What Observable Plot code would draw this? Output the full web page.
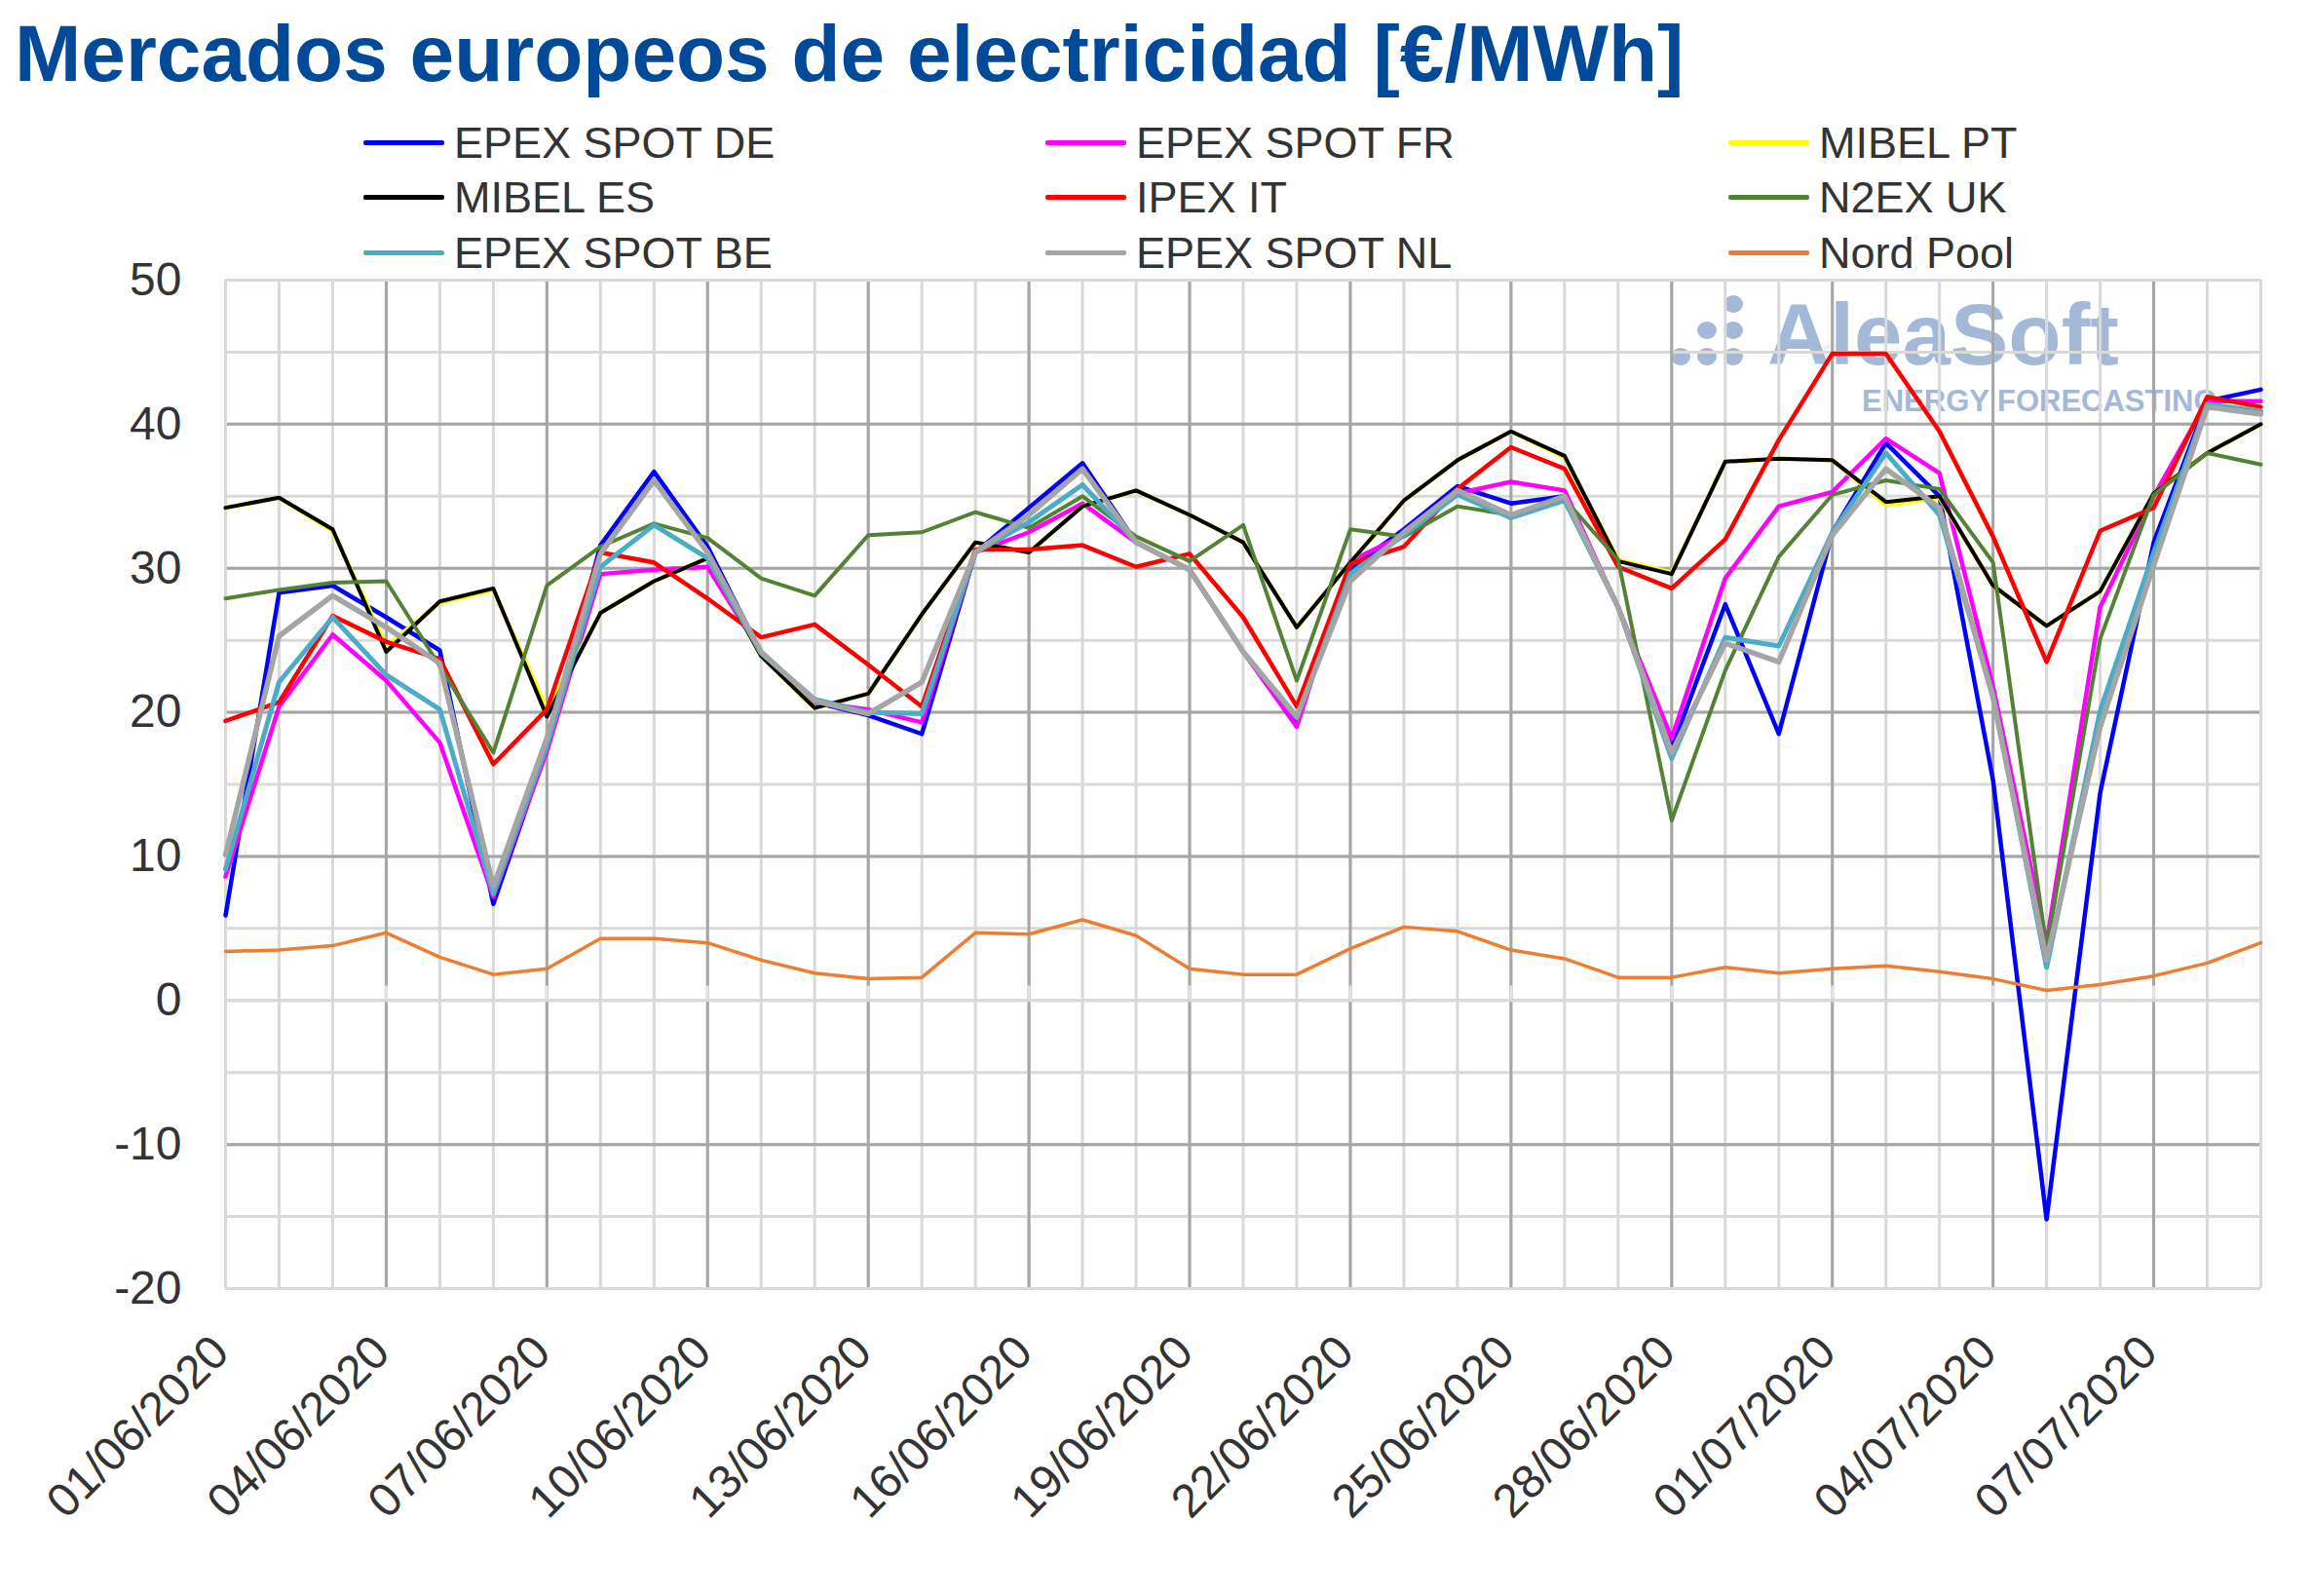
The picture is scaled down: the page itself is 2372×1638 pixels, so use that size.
<!DOCTYPE html>
<html>
<head>
<meta charset="utf-8">
<script src="https://cdn.jsdelivr.net/npm/d3@7"></script>
<script src="https://cdn.jsdelivr.net/npm/@observablehq/plot@0.6"></script>
<style>
  html, body { margin: 0; padding: 0; background: #fff; }
  body { width: 2372px; height: 1638px; overflow: hidden; position: relative;
         font-family: Arial, "Liberation Sans", sans-serif; }
  #header { position: relative; height: 270px; }
  #title { position: absolute; left: 15px; top: 14px; font-size: 82px; font-weight: bold;
           color: #004a99; line-height: 1; white-space: nowrap; }
  .leg { position: absolute; height: 45px; font-size: 45px; line-height: 1; color: #333; white-space: nowrap; }
  .leg .sw { position: absolute; left: 0; width: 83px; height: 5px; border-radius: 2px; }
  .leg .tx { position: absolute; left: 93px; top: 0; }
  #wm { position: absolute; left: 0; top: 0; z-index: 0; color: #a4b9d8; font-weight: bold; }
  #wm .dot { position: absolute; width: 20px; height: 18px; border-radius: 50%; background: #a4b9d8; }
  #wm .t1 { position: absolute; left: 1814px; top: 312px; font-size: 89px; line-height: 0.7; white-space: nowrap; }
  #wm .t2 { position: absolute; left: 1911px; top: 400px; font-size: 31px; line-height: 0.75; white-space: nowrap; }
  #chart { position: relative; z-index: 1; }
</style>
</head>
<body>
<div id="wm"></div>
<div id="header">
  <div id="title">Mercados europeos de electricidad [€/MWh]</div>
  <div id="legend"></div>
</div>
<div id="chart"></div>
<script>
// ---- data ----
const startDay = "2020-06-01";
const nDays = 39;
const tickLabels = ["01/06/2020","04/06/2020","07/06/2020","10/06/2020","13/06/2020","16/06/2020",
  "19/06/2020","22/06/2020","25/06/2020","28/06/2020","01/07/2020","04/07/2020","07/07/2020"];
const yTicks = [-20,-10,0,10,20,30,40,50];

const seriesNames = ["EPEX SPOT DE","EPEX SPOT FR","MIBEL PT","MIBEL ES","IPEX IT","N2EX UK","EPEX SPOT BE","EPEX SPOT NL","Nord Pool"];
const seriesColors = ["#0000ff","#ff00ff","#ffff00","#000000","#ff0000","#548235","#4bacc6","#a5a5a5","#ed7d31"];
const seriesWidths = [4.5,4.5,4.5,4,4.5,4,5,5.5,3.5];

const epexDE = [5.9,28.3,28.8,26.6,24.3,6.7,17.5,31.6,36.7,31.5,24.1,20.7,19.8,18.5,31.1,34.2,37.3,31.8,29.9,24.2,19.4,30.0,32.7,35.7,34.5,35.0,27.3,17.5,27.5,18.5,32.5,38.7,35.0,15.3,-15.2,14.4,31.8,41.6,42.4];
const epexFR = [8.6,20.4,25.4,22.2,17.9,7.2,17.3,29.6,29.9,30.1,24.1,20.7,20.2,19.3,31.1,32.5,34.5,31.8,29.9,24.2,19.0,30.5,32.3,35.2,36.0,35.4,27.3,18.2,29.3,34.3,35.3,39.0,36.6,21.8,4.0,27.3,35.0,41.6,41.6];
const mibelPT = [34.2,34.9,32.6,24.6,27.6,28.5,20.2,26.9,29.1,30.7,23.9,20.3,21.3,26.8,31.8,31.1,34.3,35.4,33.7,31.8,25.9,30.4,34.7,37.5,39.5,37.7,30.6,29.7,37.4,37.6,37.5,34.4,34.9,28.8,26.0,28.4,35.2,38.0,40.0];
const mibelES = [34.2,34.9,32.7,24.2,27.7,28.6,19.7,26.9,29.1,30.7,23.9,20.3,21.3,26.8,31.8,31.1,34.3,35.4,33.7,31.8,25.9,30.4,34.7,37.5,39.5,37.8,30.5,29.6,37.4,37.6,37.5,34.6,35.0,28.8,26.0,28.4,35.2,38.0,40.0];
const ipexIT = [19.4,20.7,26.7,24.9,23.7,16.4,20.2,31.1,30.4,27.9,25.2,26.1,23.3,20.4,31.3,31.3,31.6,30.1,31.0,26.6,20.4,30.3,31.5,35.5,38.4,36.9,30.1,28.6,32.0,38.9,44.9,44.9,39.5,32.2,23.5,32.6,34.2,41.9,41.2];
const n2exUK = [27.9,28.5,29.0,29.1,23.2,17.2,28.8,31.5,33.1,32.1,29.3,28.1,32.3,32.5,33.9,32.8,35.0,32.2,30.5,33.0,22.2,32.7,32.2,34.3,33.7,34.8,30.6,12.5,22.9,30.8,35.1,36.1,35.5,30.4,3.6,25.1,35.1,38.0,37.2];
const epexBE = [9.1,22.1,26.6,22.6,20.2,7.4,17.7,30.1,33.0,30.7,24.1,20.9,20.0,19.9,31.1,33.2,35.8,31.8,29.9,24.2,19.6,29.6,32.3,35.1,33.5,34.7,27.3,16.8,25.2,24.6,32.5,38.0,33.7,21.2,2.3,20.1,31.1,41.4,40.9];
const epexNL = [10.1,25.3,28.1,25.9,23.4,7.9,18.2,31.0,36.1,31.1,24.2,20.8,19.9,22.1,31.1,33.7,36.9,31.8,29.9,24.2,19.7,29.1,32.5,35.4,33.7,35.0,27.3,17.2,24.8,23.5,32.3,36.9,34.2,21.0,2.8,19.0,30.2,41.2,40.7];
const nordPool = [3.4,3.5,3.8,4.7,3.0,1.8,2.2,4.3,4.3,4.0,2.8,1.9,1.5,1.6,4.7,4.6,5.6,4.5,2.2,1.8,1.8,3.6,5.1,4.8,3.5,2.9,1.6,1.6,2.3,1.9,2.2,2.4,2.0,1.5,0.7,1.1,1.7,2.6,4.0];

const seriesValues = [epexDE, epexFR, mibelPT, mibelES, ipexIT, n2exUK, epexBE, epexNL, nordPool];

// ---- derived tables ----
const parseDMY = d3.utcParse("%d/%m/%Y");
const t0 = d3.utcParse("%Y-%m-%d")(startDay);
const dates = d3.utcDay.range(t0, d3.utcDay.offset(t0, nDays));
const tickDates = tickLabels.map(parseDMY);
const fmt = d3.utcFormat("%d/%m/%Y");

const majorDates = dates.filter((d, i) => i % 3 === 0 && i > 0 && i < dates.length - 1);
const minorY = d3.range(-20, 51, 5);
const majorY = yTicks.filter(v => v !== 0 && v !== 50 && v !== -20);

// ---- legend ----
const legend = document.getElementById("legend");
const colX = [373, 1073, 1774];
const rowTop = [124, 180, 237];
seriesNames.forEach((name, i) => {
  const el = document.createElement("div");
  el.className = "leg";
  el.style.left = colX[i % 3] + "px";
  el.style.top = rowTop[Math.floor(i / 3)] + "px";
  el.innerHTML = `<span class="sw" style="background:${seriesColors[i]};top:20px"></span><span class="tx">${name}</span>`;
  legend.appendChild(el);
});

// ---- watermark ----
const wm = document.getElementById("wm");
[[1725,366],[1752,366],[1752,339],[1779,366],[1779,339],[1779,312]].forEach(([cx, cy]) => {
  const d = document.createElement("div");
  d.className = "dot";
  d.style.left = (cx - 10) + "px";
  d.style.top = (cy - 9) + "px";
  wm.appendChild(d);
});
wm.insertAdjacentHTML("beforeend", `<div class="t1">AleaSoft</div><div class="t2">ENERGY FORECASTING</div>`);

// ---- chart ----
const lineMarks = seriesNames.map((name, i) =>
  Plot.line(seriesValues[i].map((v, j) => ({date: dates[j], value: v})), {
    x: "date", y: "value", stroke: seriesColors[i], strokeWidth: seriesWidths[i],
    strokeLinejoin: "round", strokeLinecap: "round"
  })
);

const chart = Plot.plot({
  width: 2372,
  height: 1368,
  marginLeft: 231,
  marginRight: 52,
  marginTop: 17,
  marginBottom: 316,
  style: {background: "transparent", fontFamily: "Arial, 'Liberation Sans', sans-serif", color: "#333", overflow: "visible"},
  x: {type: "utc", domain: [dates[0], dates[dates.length - 1]], axis: null},
  y: {domain: [-20, 50], label: null},
  marks: [
    Plot.ruleX(dates, {x: d => d, stroke: "#d9d9d9", strokeWidth: 3}),
    Plot.ruleY(minorY, {y: d => d, stroke: "#d9d9d9", strokeWidth: 3}),
    Plot.ruleX(majorDates, {x: d => d, stroke: "#a6a6a6", strokeWidth: 3}),
    Plot.ruleY(majorY, {y: d => d, stroke: "#a6a6a6", strokeWidth: 3}),
    Plot.ruleX(majorDates, {x: d => d, y1: 0, y2: 1, stroke: "#e3e3e3", strokeWidth: 3}),
    Plot.ruleY([0, -20, 50], {y: d => d, stroke: "#d9d9d9", strokeWidth: 3}),
    Plot.ruleX([dates[0], dates[dates.length - 1]], {x: d => d, stroke: "#d9d9d9", strokeWidth: 3}),
    Plot.axisY({ticks: yTicks, tickSize: 0, tickPadding: 45, tickFormat: d => String(d),
                fontSize: 48, label: null, fill: "#333"}),
    Plot.text(tickDates, {x: d => d, frameAnchor: "bottom", text: d => fmt(d), rotate: -45,
                textAnchor: "end", lineAnchor: "bottom", dx: 6, dy: 68, fontSize: 48, fill: "#333"}),
    ...lineMarks
  ]
});
document.getElementById("chart").appendChild(chart);
</script>
</body>
</html>
